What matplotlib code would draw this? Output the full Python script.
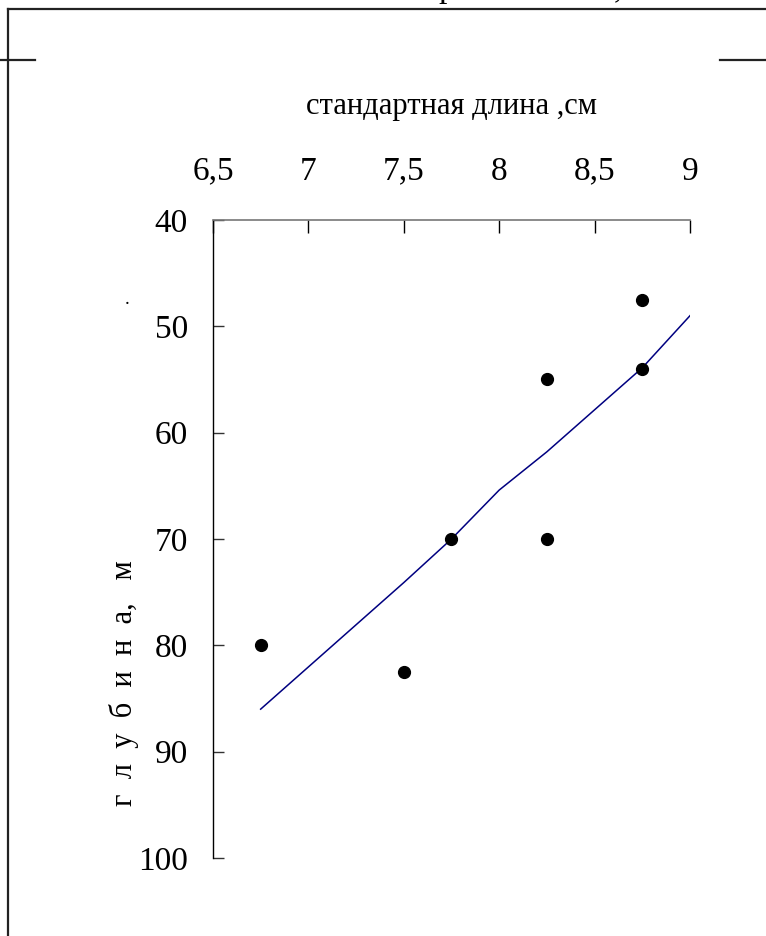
import matplotlib.pyplot as plt
from matplotlib.lines import Line2D

plt.rcParams['font.family'] = ['Liberation Serif', 'DejaVu Serif']

# --- data ---
length_cm = [6.75, 7.5, 7.75, 8.25, 8.25, 8.75, 8.75]
depth_m = [80, 82.5, 70, 55, 70, 47.5, 54]

trend_x = [6.75, 7.5, 7.75, 8.0, 8.25, 8.75, 9.0]
trend_y = [86.0, 74.1, 70.0, 65.4, 61.8, 53.9, 49.0]

x_ticks = [6.5, 7, 7.5, 8, 8.5, 9]
x_tick_labels = ['6,5', '7', '7,5', '8', '8,5', '9']
y_ticks = [40, 50, 60, 70, 80, 90, 100]

fig = plt.figure(figsize=(7.66, 9.36), dpi=100)
ax = fig.add_axes([0.278, 0.0833, 0.6228, 0.6817])

ax.plot(trend_x, trend_y, color='#000080', lw=1.1, zorder=2)
ax.plot(length_cm, depth_m, 'o', color='black', ms=8.5, zorder=3)

ax.set_xlim(6.5, 9)
ax.set_ylim(100, 40)
ax.xaxis.tick_top()
ax.xaxis.set_label_position('top')
ax.set_xticks(x_ticks)
ax.set_xticklabels(x_tick_labels)
ax.set_yticks(y_ticks)

for s in ['right', 'bottom']:
    ax.spines[s].set_visible(False)
ax.spines['top'].set_color('#777777')
ax.spines['top'].set_linewidth(1.2)
ax.spines['left'].set_color('black')
ax.spines['left'].set_linewidth(1.0)

ax.tick_params(axis='x', direction='in', length=9, width=1, color='black',
               labelsize=24, pad=24)
ax.tick_params(axis='y', direction='in', length=8, width=1, color='#333333',
               labelsize=24, pad=18)

ax.set_xlabel('стандартная длина ,см', fontsize=22, labelpad=30)

# rotated depth label, spaced letters as in the original
fig.text(124 / 766, 1 - 683 / 936, 'г  л  у  б  и  н  а,   м', rotation=90,
         fontsize=22, ha='center', va='center')
fig.text(127 / 766, 1 - 300 / 936, '.', fontsize=14, ha='center', va='center')

# page frame fragments
frame = dict(color='#222222', lw=1.6, transform=fig.transFigure)
fig.add_artist(Line2D([8 / 766, 8 / 766], [0, 1 - 9 / 936], **frame))
fig.add_artist(Line2D([8 / 766, 1], [1 - 9 / 936, 1 - 9 / 936], **frame))
fig.add_artist(Line2D([0, 35 / 766], [1 - 60 / 936, 1 - 60 / 936], **frame))
fig.add_artist(Line2D([720 / 766, 1], [1 - 60 / 936, 1 - 60 / 936], **frame))

# clipped text from the page above
fig.text(447 / 766, 1 + 3 / 936, 'р', fontsize=24, ha='center', va='baseline')
fig.text(618 / 766, 1 + 3 / 936, ',', fontsize=24, ha='center', va='baseline')

fig.savefig('out.png', dpi=100)
